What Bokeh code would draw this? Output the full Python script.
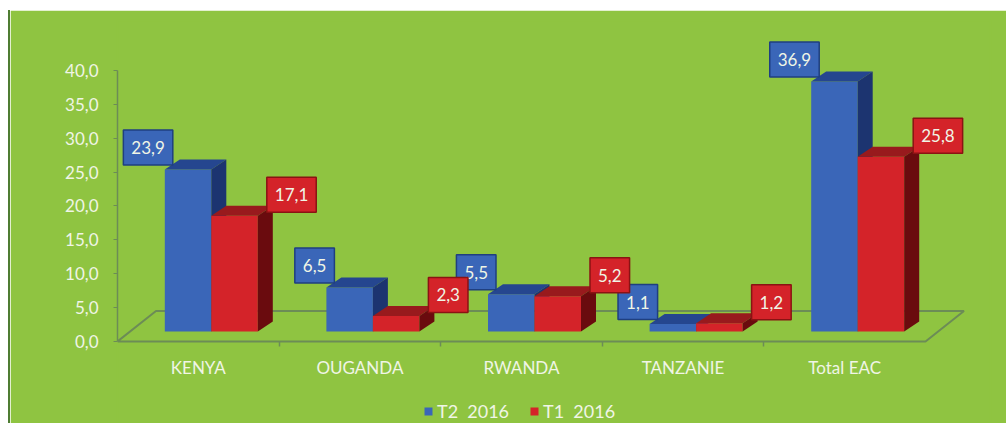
from bokeh.plotting import figure
from bokeh.models import Range1d, FixedTicker, Legend, LegendItem, ColumnDataSource
from bokeh.embed import file_html
from bokeh.resources import INLINE
from bokeh.core.properties import value

categories = ["KENYA", "OUGANDA", "RWANDA", "TANZANIE", "Total EAC"]
t2_2016 = [23.9, 6.5, 5.5, 1.1, 36.9]
t1_2016 = [17.1, 2.3, 5.2, 1.2, 25.8]
series_names = ["T2  2016", "T1  2016"]
y_ticks = [0, 5, 10, 15, 20, 25, 30, 35, 40]
y_tick_labels = ["0,0", "5,0", "10,0", "15,0", "20,0", "25,0", "30,0", "35,0", "40,0"]

BG = "#8fc441"
AXIS_C = "#6c8c56"
TXT_C = "#f0f5e6"
FONT = "Lato"
FS = "17px"

front_cols = ["#3a66b8", "#d42329"]
top_cols = ["#25468f", "#981a1d"]
side_cols = ["#1c3470", "#6a0b0e"]
box_border = ["#1f3f80", "#8a1313"]

# pixel scale of the chart (px per data unit)
PX_X = 161.6
PX_Y = 6.775
FRAME_W = 873
FRAME_H = 403
Y_TOP = 47.38

p = figure(width=998, height=413,
           x_range=Range1d(0, FRAME_W / PX_X),
           y_range=Range1d(Y_TOP - FRAME_H / PX_Y, Y_TOP),
           output_backend="svg", toolbar_location=None,
           min_border_left=107, min_border_right=18,
           min_border_top=10, min_border_bottom=0)
p.styles = {"margin-left": "8px", "margin-top": "10px",
            "border-left": "2px solid #4f7d33"}
p.background_fill_color = BG
p.border_fill_color = BG
p.outline_line_color = BG
p.outline_line_width = 2
p.xgrid.visible = False
p.ygrid.visible = False

# floor
n = len(categories)
fdx, fdy = 38.5 / PX_X, 30.5 / PX_Y
p.patch(x=[0, n, n + fdx, fdx], y=[0, 0, fdy, fdy], fill_color=None,
        line_color=AXIS_C, line_width=2)

# bars
offx, offy = 13 / PX_X, 10 / PX_Y
bw = 46.5 / PX_X
ddx, ddy = 15 / PX_X, 10 / PX_Y

front_renderers = []
for s, vals in enumerate([t2_2016, t1_2016]):
    lefts = [i + 0.5 + offx - bw + s * bw for i in range(n)]
    rights = [l + bw for l in lefts]
    bottoms = [offy] * n
    tops = [offy + v for v in vals]
    src = ColumnDataSource(dict(left=lefts, right=rights, bottom=bottoms, top=tops,
                                lab=[f"{v:.1f}".replace(".", ",") for v in vals]))
    r = p.quad(left="left", right="right", bottom="bottom", top="top", source=src,
               fill_color=front_cols[s], line_color=None)
    front_renderers.append(r)
    top_xs = [[l, rr, rr + ddx, l + ddx] for l, rr in zip(lefts, rights)]
    top_ys = [[t, t, t + ddy, t + ddy] for t in tops]
    p.patches(xs=top_xs, ys=top_ys, fill_color=top_cols[s], line_color=None)
    side_xs = [[rr, rr + ddx, rr + ddx, rr] for rr in rights]
    side_ys = [[b, b + ddy, t + ddy, t] for b, t in zip(bottoms, tops)]
    p.patches(xs=side_xs, ys=side_ys, fill_color=side_cols[s], line_color=None)

    p.text(x="left" if s == 0 else "right", y="top", text="lab", source=src,
           text_align="right" if s == 0 else "left", text_baseline="middle",
           x_offset=8 if s == 0 else 9, y_offset=-22 if s == 0 else -21,
           text_font=value(FONT), text_font_size=FS, text_color=TXT_C,
           background_fill_color=front_cols[s], border_line_color=box_border[s],
           border_line_width=1.5, padding=(8, 11))

# y axis
p.yaxis.ticker = FixedTicker(ticks=y_ticks)
p.yaxis.major_label_overrides = dict(zip(y_ticks, y_tick_labels))
p.yaxis.bounds = (0, 40)
p.yaxis.axis_line_color = AXIS_C
p.yaxis.axis_line_width = 1.5
p.yaxis.major_tick_line_color = AXIS_C
p.yaxis.major_tick_out = 4
p.yaxis.major_tick_in = 0
p.yaxis.minor_tick_line_color = None
p.yaxis.major_label_standoff = 15
p.yaxis.major_label_text_font = FONT
p.yaxis.major_label_text_font_size = FS
p.yaxis.major_label_text_color = TXT_C

# x axis (fixed at the front edge of the floor)
centers = [i + 0.5 for i in range(n)]
p.xaxis.ticker = FixedTicker(ticks=centers, minor_ticks=list(range(1, n)))
p.xaxis.major_label_overrides = dict(zip(centers, categories))
p.xaxis.fixed_location = 0
p.xaxis.axis_line_color = None
p.xaxis.major_tick_line_color = None
p.xaxis.major_tick_out = 0
p.xaxis.minor_tick_line_color = AXIS_C
p.xaxis.minor_tick_line_width = 1.5
p.xaxis.minor_tick_out = 5
p.xaxis.minor_tick_in = 0
p.xaxis.major_label_standoff = 11
p.xaxis.major_label_text_font = FONT
p.xaxis.major_label_text_font_size = FS
p.xaxis.major_label_text_color = TXT_C

legend = Legend(items=[LegendItem(label=series_names[0], renderers=[front_renderers[0]]),
                       LegendItem(label=series_names[1], renderers=[front_renderers[1]])],
                orientation="horizontal", location=(306, 1),
                background_fill_alpha=0, border_line_color=None, padding=0,
                spacing=20, label_standoff=4, glyph_width=10, glyph_height=10,
                label_text_font=FONT, label_text_font_size="18px",
                label_text_color=TXT_C)
p.add_layout(legend, "center")

open("out.html", "w").write(file_html(p, INLINE))
